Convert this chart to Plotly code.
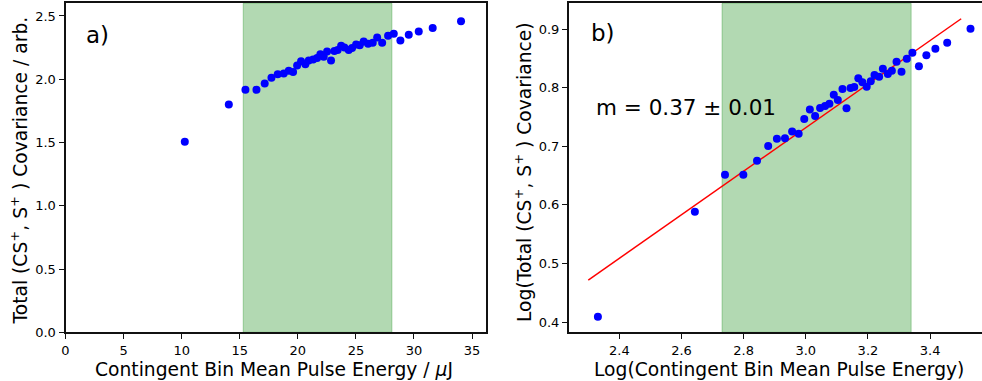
import plotly.graph_objects as go

# ---------------- data ----------------
# Panel a) : pulse energy (uJ) vs total covariance (arb.)
energy_uJ = [10.27, 14.06, 15.49, 16.44, 17.15, 17.73, 18.27, 18.79, 19.22, 19.59,
             19.94, 20.28, 20.65, 20.94, 21.32, 21.66, 21.94, 22.23, 22.52, 22.86,
             23.15, 23.43, 23.73, 24.01, 24.38, 24.67, 25.02, 25.33, 25.67, 26.05,
             26.45, 26.83, 27.26, 27.77, 28.26, 28.83, 29.55, 30.41, 31.61, 34.05]
covariance = [1.506, 1.801, 1.917, 1.917, 1.967, 2.011, 2.040, 2.046, 2.066, 2.058,
              2.109, 2.143, 2.119, 2.148, 2.156, 2.167, 2.198, 2.177, 2.219, 2.148,
              2.224, 2.230, 2.264, 2.251, 2.230, 2.246, 2.275, 2.269, 2.299, 2.280,
              2.288, 2.330, 2.288, 2.343, 2.359, 2.306, 2.351, 2.377, 2.404, 2.459]

# Panel b) : log-log version
log_energy = [2.331, 2.643, 2.740, 2.799, 2.843, 2.879, 2.907, 2.933, 2.956, 2.977,
              2.995, 3.013, 3.030, 3.046, 3.062, 3.076, 3.090, 3.103, 3.118, 3.131,
              3.144, 3.156, 3.169, 3.182, 3.196, 3.209, 3.221, 3.236, 3.248, 3.264,
              3.277, 3.292, 3.308, 3.325, 3.343, 3.364, 3.388, 3.417, 3.455, 3.530]
log_covariance = [0.4091, 0.5882, 0.6515, 0.6515, 0.6754, 0.7005, 0.7130, 0.7140, 0.7256, 0.7215,
                  0.7467, 0.7632, 0.7518, 0.7655, 0.7690, 0.7729, 0.7882, 0.7791, 0.7980, 0.7650,
                  0.7997, 0.8014, 0.8162, 0.8094, 0.8019, 0.8111, 0.8219, 0.8190, 0.8327, 0.8236,
                  0.8293, 0.8446, 0.8276, 0.8498, 0.8600, 0.8367, 0.8556, 0.8668, 0.8771, 0.9010]

# linear fit in log space
fit_slope = 0.372
fit_intercept = -0.384
fit_x_range = [2.30, 3.50]

# fitting window (highlighted region)
window_uJ = [15.3, 28.1]
window_log = [2.7305, 3.339]

x_ticks_a = [0, 5, 10, 15, 20, 25, 30, 35]
y_ticks_a = [0.0, 0.5, 1.0, 1.5, 2.0, 2.5]
x_ticks_b = [2.4, 2.6, 2.8, 3.0, 3.2, 3.4]
y_ticks_b = [0.4, 0.5, 0.6, 0.7, 0.8, 0.9]

slope_label = "m = 0.37 ± 0.01"

# ---------------- layout helpers ----------------
W, H = 982, 381
def px(x):
    return x / W
def py(y):
    return 1 - y / H

FONT = "DejaVu Sans"
BLUE = "#0000ff"
band_fill = "rgba(0,128,0,0.3)"

fig = go.Figure()

fig.add_trace(go.Scatter(x=energy_uJ, y=covariance, mode="markers",
                         marker=dict(color=BLUE, size=8, line=dict(width=0)),
                         xaxis="x", yaxis="y", showlegend=False, hoverinfo="skip"))

fit_y = [fit_slope * x + fit_intercept for x in fit_x_range]
fig.add_trace(go.Scatter(x=fit_x_range, y=fit_y, mode="lines",
                         line=dict(color="red", width=1.5),
                         xaxis="x2", yaxis="y2", showlegend=False, hoverinfo="skip"))
fig.add_trace(go.Scatter(x=log_energy, y=log_covariance, mode="markers",
                         marker=dict(color=BLUE, size=8, line=dict(width=0)),
                         xaxis="x2", yaxis="y2", showlegend=False, hoverinfo="skip"))

fig.add_shape(type="rect", xref="x", yref="y domain", x0=window_uJ[0], x1=window_uJ[1],
              y0=0, y1=1, fillcolor=band_fill, line=dict(color=band_fill, width=1), layer="below")
fig.add_shape(type="rect", xref="x2", yref="y2 domain", x0=window_log[0], x1=window_log[1],
              y0=0, y1=1, fillcolor=band_fill, line=dict(color=band_fill, width=1), layer="below")

ydom = [py(332.3), py(3.3)]
tickfont = dict(family=FONT, size=13, color="black")
axis_common = dict(showgrid=False, zeroline=False, showline=True, linecolor="#111111",
                   linewidth=2, ticks="outside", ticklen=5, tickwidth=1.3, tickcolor="#111111",
                   tickfont=tickfont, automargin=False)

fig.update_layout(
    template="none",
    width=W, height=H, autosize=False,
    margin=dict(l=0, r=0, t=0, b=0, pad=0),
    paper_bgcolor="white", plot_bgcolor="white",
    font=dict(family=FONT, color="black"),
    xaxis=dict(domain=[px(65.5), px(486)], range=[0, 36.2], tickvals=x_ticks_a,
               ticktext=[str(v) for v in x_ticks_a], mirror=True, anchor="y", **axis_common),
    yaxis=dict(domain=ydom, range=[0, 2.6], tickvals=y_ticks_a,
               ticktext=[f"{v:.1f}" for v in y_ticks_a], mirror=True, anchor="x", **axis_common),
    xaxis2=dict(domain=[px(569), 1.0], range=[2.238, 3.567], tickvals=x_ticks_b,
                ticktext=[f"{v:.1f}" for v in x_ticks_b], mirror=True, anchor="y2", **axis_common),
    yaxis2=dict(domain=ydom, range=[0.3824, 0.9444], tickvals=y_ticks_b,
                ticktext=[f"{v:.1f}" for v in y_ticks_b], mirror=False, anchor="x2", **axis_common),
)

title_font = dict(family=FONT, size=18.7, color="black")
ann = [
    dict(text="a)", x=px(84), y=py(35), xanchor="left", yanchor="middle",
         font=dict(family=FONT, size=23, color="black")),
    dict(text="b)", x=px(589), y=py(33), xanchor="left", yanchor="middle",
         font=dict(family=FONT, size=23, color="black")),
    dict(text=slope_label, x=px(594), y=py(107), xanchor="left", yanchor="middle",
         font=dict(family=FONT, size=21.5, color="black")),
    dict(text="Contingent Bin Mean Pulse Energy / <i>μ</i>J", x=px(274), y=py(369),
         xanchor="center", yanchor="middle", font=title_font),
    dict(text="Total (CS<sup>+</sup>, S<sup>+</sup> ) Covariance / arb.", x=px(19.5), y=py(171),
         xanchor="center", yanchor="middle", textangle=-90, font=title_font),
    dict(text="Log(Contingent Bin Mean Pulse Energy)", x=px(779), y=py(369),
         xanchor="center", yanchor="middle", font=title_font),
    dict(text="Log(Total (CS<sup>+</sup>, S<sup>+</sup> ) Covariance)", x=px(523), y=py(172),
         xanchor="center", yanchor="middle", textangle=-90, font=title_font),
]
for a in ann:
    a.update(xref="paper", yref="paper", showarrow=False)
fig.update_layout(annotations=ann)

fig.write_html("out.html")
